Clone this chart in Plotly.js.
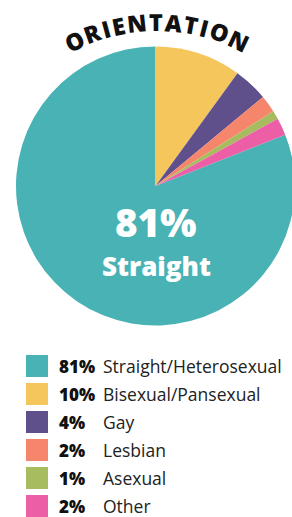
<!DOCTYPE html>
<html>
<head>
<meta charset="utf-8">
<script src="https://cdn.plot.ly/plotly-3.0.1.min.js"></script>
<style>
html,body{margin:0;padding:0;overflow:hidden;background:#fff;width:292px;height:517px;}
#chart{width:300px;height:517px;}
</style>
</head>
<body>
<div id="chart"></div>
<script>
// ---- data ----
var titleText = "ORIENTATION";
var categories = ["Straight/Heterosexual", "Bisexual/Pansexual", "Gay", "Lesbian", "Asexual", "Other"];
var percents = [81, 10, 4, 2, 1, 2];
var colors = ["#49B2B5", "#F4C65C", "#5F4F8B", "#F6866B", "#A7BC5F", "#EC5FA6"];
var centerLabel = "Straight";

// ---- layout helpers ----
var W = 300, H = 517;
function px(x){ return x / W; }
function py(y){ return 1 - y / H; }

var FONT = "'Open Sans', Lato, sans-serif";
var cx = 155.5, cy = 186, r = 139.5;

var annotations = [];
var shapes = [];

// curved title: letters placed along an arc
(function(){
  var canvas = document.createElement('canvas');
  var ctx = canvas.getContext('2d');
  var fs = 23.5;
  ctx.font = "800 " + fs + "px 'Open Sans'";
  var letters = titleText.split('');
  var widths = letters.map(function(c){ return ctx.measureText(c).width; });
  var R = 191, acx = 157, acy = 213;
  var spanDeg = 51;
  var centersLen = R * spanDeg * Math.PI / 180;
  var sumInner = 0;
  for (var i = 0; i < widths.length; i++) sumInner += widths[i];
  sumInner -= (widths[0] / 2 + widths[widths.length - 1] / 2);
  var spacing = (centersLen - sumInner) / (letters.length - 1);
  var s = -centersLen / 2;
  for (var j = 0; j < letters.length; j++) {
    if (j > 0) s += widths[j - 1] / 2 + spacing + widths[j] / 2;
    var phi = s / R;
    var x = acx + R * Math.sin(phi);
    var y = acy - R * Math.cos(phi);
    annotations.push({
      text: letters[j], x: px(x), y: py(y), xref: 'paper', yref: 'paper',
      xanchor: 'center', yanchor: 'middle', showarrow: false,
      textangle: phi * 180 / Math.PI,
      font: {family: FONT, size: fs, color: '#111', weight: 800}
    });
  }
})();

// center label
annotations.push({
  text: percents[0] + "%", x: px(156), y: py(222), xref: 'paper', yref: 'paper',
  xanchor: 'center', yanchor: 'middle', showarrow: false, borderpad: 0,
  font: {family: FONT, size: 38.5, color: '#fff', weight: 800}
});
annotations.push({
  text: centerLabel, x: px(156), y: py(266), xref: 'paper', yref: 'paper',
  xanchor: 'center', yanchor: 'middle', showarrow: false, borderpad: 0,
  font: {family: FONT, size: 26, color: '#fff', weight: 800}
});

// legend
for (var k = 0; k < categories.length; k++) {
  var rowTop = 355 + k * 28;
  shapes.push({
    type: 'rect', xref: 'paper', yref: 'paper',
    x0: px(26), x1: px(48), y0: py(rowTop + 22), y1: py(rowTop),
    fillcolor: colors[k], line: {width: 0}
  });
  annotations.push({
    text: percents[k] + "%", x: px(57), y: py(rowTop + 11), xref: 'paper', yref: 'paper',
    xanchor: 'left', yanchor: 'middle', showarrow: false,
    font: {family: FONT, size: 17, color: '#111', weight: 800}
  });
  annotations.push({
    text: categories[k], x: px(101), y: py(rowTop + 11), xref: 'paper', yref: 'paper',
    xanchor: 'left', yanchor: 'middle', showarrow: false,
    font: {family: FONT, size: 17.5, color: '#222', weight: 400}
  });
}

var trace = {
  type: 'pie',
  labels: categories,
  values: percents,
  marker: {colors: colors, line: {width: 0}},
  sort: false,
  direction: 'clockwise',
  rotation: 360 * (1 - percents[0] / 100),
  textinfo: 'none',
  hoverinfo: 'label+percent',
  showlegend: false,
  domain: {x: [px(cx - r), px(cx + r)], y: [py(cy + r), py(cy - r)]}
};

var layout = {
  width: W, height: H,
  margin: {l: 0, r: 0, t: 0, b: 0},
  paper_bgcolor: '#fff',
  showlegend: false,
  annotations: annotations,
  shapes: shapes
};

Plotly.newPlot('chart', [trace], layout, {displayModeBar: false, staticPlot: true});
</script>
</body>
</html>
